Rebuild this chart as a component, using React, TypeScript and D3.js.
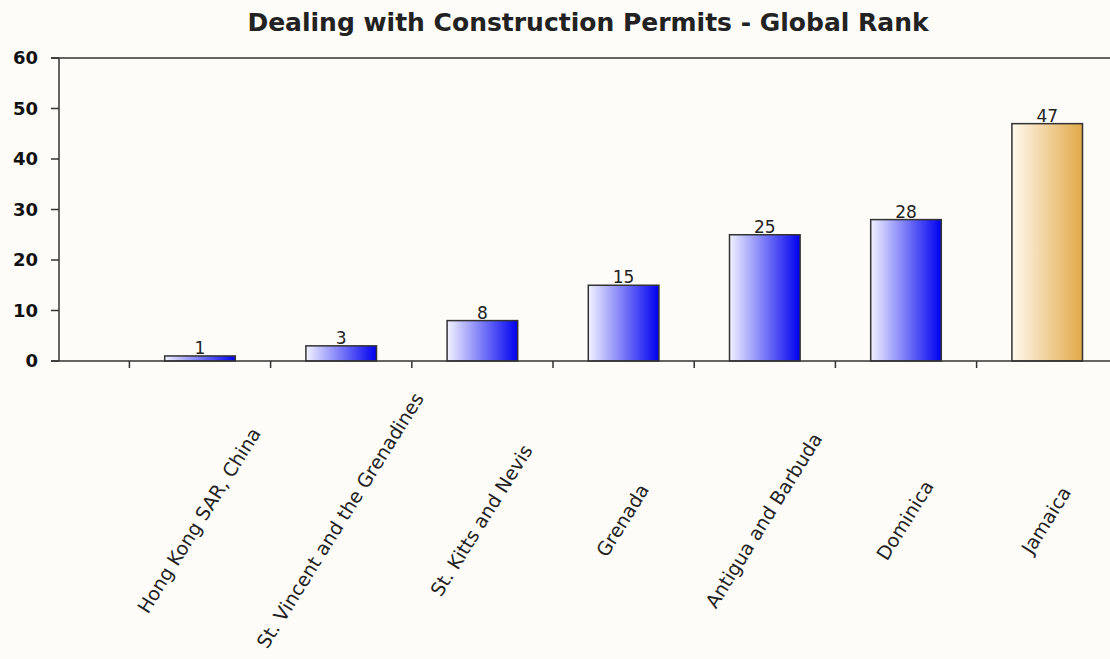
import React from "react";
import * as d3 from "d3";

const categories = [
  "Hong Kong SAR, China",
  "St. Vincent and the Grenadines",
  "St. Kitts and Nevis",
  "Grenada",
  "Antigua and Barbuda",
  "Dominica",
  "Jamaica",
];
const values = [1, 3, 8, 15, 25, 28, 47];
const highlight = ["Jamaica"];
const yTicks = [0, 10, 20, 30, 40, 50, 60];
const title = "Dealing with Construction Permits - Global Rank";

export default function App() {
  const W = 1110;
  const H = 659;
  const axisX = 59;
  const top = 58;
  const bottom = 361;
  const step = 141.2;
  const x0 = 129.4;

  const x = d3
    .scaleBand<string>()
    .domain(categories)
    .range([x0, x0 + step * categories.length])
    .padding(0);
  const y = d3.scaleLinear().domain([0, 60]).range([bottom, top]);
  const barW = x.bandwidth() * 0.5;
  const boundaries = d3.range(categories.length + 1).map((i) => x0 + step * i);

  const font = "'DejaVu Sans', Verdana, sans-serif";

  return (
    <svg
      width={W}
      height={H}
      style={{ position: "absolute", left: 0, top: 0, background: "#fdfcf8" }}
    >
      <defs>
        <linearGradient id="gBlue" x1="0" x2="1" y1="0" y2="0">
          <stop offset="0" stopColor="#f2f2ff" />
          <stop offset="1" stopColor="#0000f0" />
        </linearGradient>
        <linearGradient id="gGold" x1="0" x2="1" y1="0" y2="0">
          <stop offset="0" stopColor="#fffaf0" />
          <stop offset="1" stopColor="#e2a848" />
        </linearGradient>
      </defs>
      <rect x={0} y={0} width={W} height={H} fill="#fdfcf8" />
      <text
        x={588}
        y={31}
        textAnchor="middle"
        fontFamily={font}
        fontWeight="bold"
        fontSize={25}
        fill="#222"
      >
        {title}
      </text>

      {/* bars */}
      {categories.map((c, i) => {
        const cx = (x(c) as number) + x.bandwidth() / 2;
        const v = values[i];
        return (
          <g key={c}>
            <rect
              x={cx - barW / 2}
              y={y(v)}
              width={barW}
              height={y(0) - y(v)}
              fill={highlight.includes(c) ? "url(#gGold)" : "url(#gBlue)"}
              stroke="#333"
              strokeWidth={1.5}
            />
            <text
              x={cx}
              y={y(v) - 2}
              textAnchor="middle"
              fontFamily={font}
              fontSize={17}
              fill="#222"
            >
              {v}
            </text>
            <text
              transform={`translate(${cx},${521}) rotate(-58)`}
              textAnchor="middle"
              dominantBaseline="middle"
              fontFamily={font}
              fontSize={19}
              fill="#222"
            >
              {c}
            </text>
          </g>
        );
      })}

      {/* axes */}
      <line x1={axisX} x2={axisX} y1={top} y2={bottom} stroke="#333" strokeWidth={1.5} />
      <line x1={axisX - 8} x2={W} y1={top} y2={top} stroke="#333" strokeWidth={1.5} />
      <line x1={axisX - 8} x2={W} y1={bottom} y2={bottom} stroke="#333" strokeWidth={1.5} />
      {yTicks.map((t) => (
        <g key={t}>
          <line x1={axisX - 8} x2={axisX} y1={y(t)} y2={y(t)} stroke="#333" strokeWidth={1.5} />
          <text
            x={38}
            y={y(t)}
            dy="0.36em"
            textAnchor="end"
            fontFamily={font}
            fontWeight="bold"
            fontSize={18}
            fill="#111"
          >
            {t}
          </text>
        </g>
      ))}
      {boundaries.map((b, i) => (
        <line key={i} x1={b} x2={b} y1={bottom} y2={bottom + 7} stroke="#333" strokeWidth={1.5} />
      ))}
    </svg>
  );
}
